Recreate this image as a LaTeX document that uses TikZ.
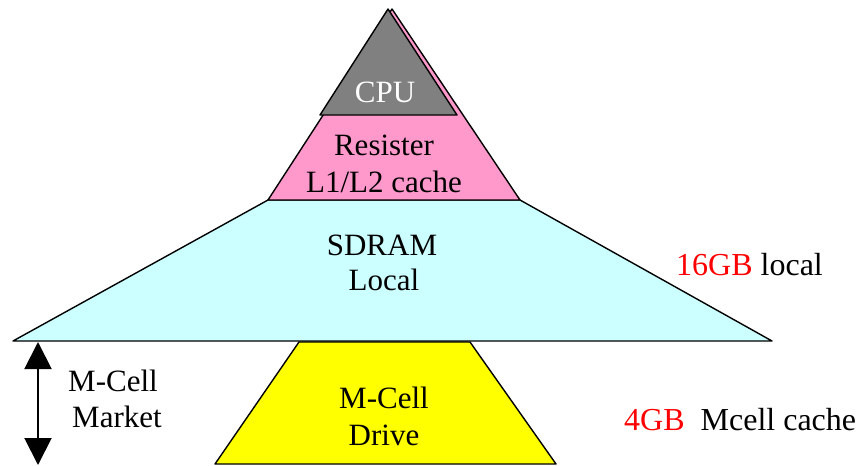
\documentclass[tikz,border=0pt]{standalone}
\usepackage{fontspec}
\setmainfont{Liberation Serif}
\usetikzlibrary{arrows.meta}
\definecolor{cpugray}{RGB}{128,128,128}
\definecolor{regpink}{RGB}{255,153,204}
\definecolor{ramcyan}{RGB}{204,255,255}
\definecolor{drvyellow}{RGB}{255,255,0}
\definecolor{gbred}{RGB}{255,0,0}
\tikzset{
  layer/.style={draw=black, line width=1.4pt, line join=round},
  lbl/.style={font=\fontsize{31}{37}\selectfont, inner sep=0pt, anchor=base},
  side/.style={font=\fontsize{32}{38}\selectfont, inner sep=0pt, anchor=base west},
  span/.style={line width=2pt, {Triangle[width=27pt,length=27pt]}-{Triangle[width=27pt,length=27pt]}}
}
\begin{document}
\begin{tikzpicture}[x=1pt,y=-1pt]
\useasboundingbox (0,0) rectangle (860,466);
% layers
\fill[ramcyan, layer] (268,200) -- (520,200) -- (772,341) -- (13,341) -- cycle;
\fill[regpink, layer] (392,9) -- (520,200) -- (268,200) -- cycle;
\fill[cpugray, layer] (388,9) -- (457,115) -- (320,115) -- cycle;
\fill[drvyellow, layer] (299,342) -- (470,342) -- (556,464) -- (215,464) -- cycle;
% labels
\node[lbl, text=white] (cpu) at (385,102) {CPU};
\node[lbl] (res1) at (384,155) {Resister};
\node[lbl] (res2) at (384,192) {L1/L2 cache};
\node[lbl] (sd1) at (382,255) {SDRAM};
\node[lbl] (sd2) at (384,290) {Local};
\node[lbl] (mc1) at (384,408) {M-Cell};
\node[lbl] (mc2) at (384,445) {Drive};
\node[lbl] (mk1) at (113,391) {M-Cell};
\node[lbl] (mk2) at (117,427) {Market};
\node[side] (loc) at (676,275) {\textcolor{gbred}{16GB} local};
\node[side] (mce) at (624,430) {\textcolor{gbred}{4GB}\ \ Mcell cache};
% span arrow
\coordinate (atop) at (38,342);
\coordinate (abot) at (38,465);
\draw[span] (atop) -- (abot);
\end{tikzpicture}
\end{document}
